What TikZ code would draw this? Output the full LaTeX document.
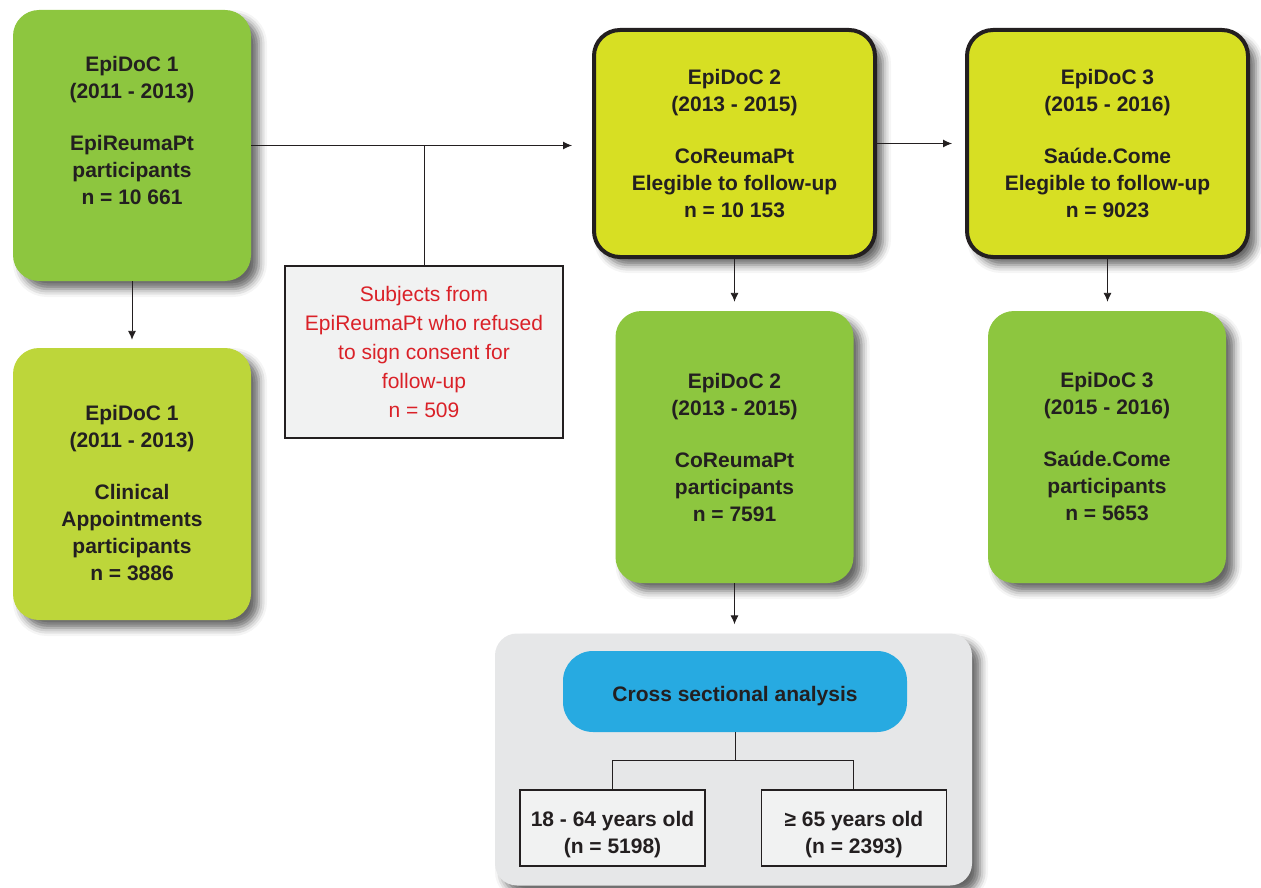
\documentclass[tikz,border=0pt]{standalone}
\usepackage{fontspec}
\setmainfont{Liberation Sans}
\usetikzlibrary{positioning,arrows.meta,shadows.blur}
\definecolor{epigreen}{HTML}{8DC63F}
\definecolor{clingreen}{HTML}{BDD63A}
\definecolor{eligyellow}{HTML}{D7DF23}
\definecolor{crossblue}{HTML}{27AAE1}
\definecolor{panelgray}{HTML}{E6E7E8}
\definecolor{notegray}{HTML}{F1F2F2}
\definecolor{refusedred}{HTML}{DA2128}
\definecolor{inkdark}{HTML}{231F20}
\tikzset{
  every node/.style={align=center, text=inkdark,
    font=\bfseries\fontsize{21}{27}\selectfont},
  softshadow/.style={blur shadow={shadow xshift=8pt, shadow yshift=-8pt,
    shadow blur radius=8pt, shadow opacity=60}},
  phase/.style={rounded corners=26pt, minimum width=238pt,
    minimum height=271pt, softshadow},
  elig/.style={rounded corners=26pt, draw=inkdark, line width=4pt,
    fill=eligyellow, minimum width=281pt, minimum height=227pt, softshadow},
  notebox/.style={draw=inkdark, line width=1.4pt, fill=notegray},
  link/.style={draw=inkdark, line width=0.9pt},
}
\begin{document}
\begin{tikzpicture}[x=1pt, y=-1pt, >={Latex[length=9pt,width=8pt]}]
\useasboundingbox (0,0) rectangle (1261,888);

% first wave
\node[phase, fill=epigreen, text depth=30pt] (epi1) at (132,145.5)
  {EpiDoC 1\\(2011 - 2013)\\[25pt]EpiReumaPt\\participants\\n = 10 661};
\node[phase, fill=clingreen, minimum height=272pt, text height=193.5pt,
  text depth=0pt] (epi1clin) at (132,484)
  {EpiDoC 1\\(2011 - 2013)\\[25pt]Clinical\\Appointments\\participants\\n = 3886};
\node[notebox, minimum width=278pt, minimum height=172pt,
  text=refusedred, font=\fontsize{21}{29}\selectfont] (refused) at (424,352)
  {Subjects from\\EpiReumaPt who refused\\to sign consent for\\follow-up\\n = 509};

% follow-up waves
\node[elig] (epi2elig) at (734.5,143.5)
  {EpiDoC 2\\(2013 - 2015)\\[25pt]CoReumaPt\\Elegible to follow-up\\n = 10 153};
\node[elig] (epi3elig) at (1107.5,143.5)
  {EpiDoC 3\\(2015 - 2016)\\[25pt]Saúde.Come\\Elegible to follow-up\\n = 9023};
\node[phase, fill=epigreen, minimum height=272pt] (epi2part) at (734.5,447)
  {EpiDoC 2\\(2013 - 2015)\\[25pt]CoReumaPt\\participants\\n = 7591};
\node[phase, fill=epigreen, minimum height=272pt] (epi3part) at (1107,447)
  {EpiDoC 3\\(2015 - 2016)\\[25pt]Saúde.Come\\participants\\n = 5653};

% cross sectional panel
\node[rounded corners=22pt, fill=panelgray, minimum width=477pt,
  minimum height=252pt, softshadow] (panel) at (733.5,759.5) {};
\node[rounded corners=30pt, fill=crossblue, minimum width=344pt,
  minimum height=81pt, text height=23.5pt, text depth=4.4pt] (cross) at (735,691.5)
  {Cross sectional analysis};
\node[notebox, minimum width=185pt, minimum height=76pt, text height=56.5pt,
  text depth=5pt] (young) at (612.5,828)
  {18 - 64 years old\\(n = 5198)};
\node[notebox, minimum width=185pt, minimum height=76pt, text height=56.5pt,
  text depth=5pt, right=55pt of young] (old)
  {≥ 65 years old\\(n = 2393)};

% connectors
\draw[link, ->, shorten >=20pt] (epi1.east) -- (epi1.east -| epi2elig.west);
\draw[link] (epi1.east -| refused.north) -- (refused.north);
\draw[link, ->, shorten >=13pt] (epi2elig.east) -- (epi2elig.east -| epi3elig.west);
\draw[link, ->, shorten >=8pt] (epi1) -- (epi1clin);
\draw[link, ->, shorten >=9pt] (epi2elig) -- (epi2part);
\draw[link, ->, shorten >=9pt] (epi3elig.south) -- (epi3elig.south |- epi3part.north);
\draw[link, ->, shorten >=9pt] (epi2part) -- (epi2part.south |- panel.north);
\coordinate (split) at ([yshift=-28pt]cross.south);
\draw[link] (cross) -- (split);
\draw[link] (young.north) |- (split) -| (old.north);
\end{tikzpicture}
\end{document}
